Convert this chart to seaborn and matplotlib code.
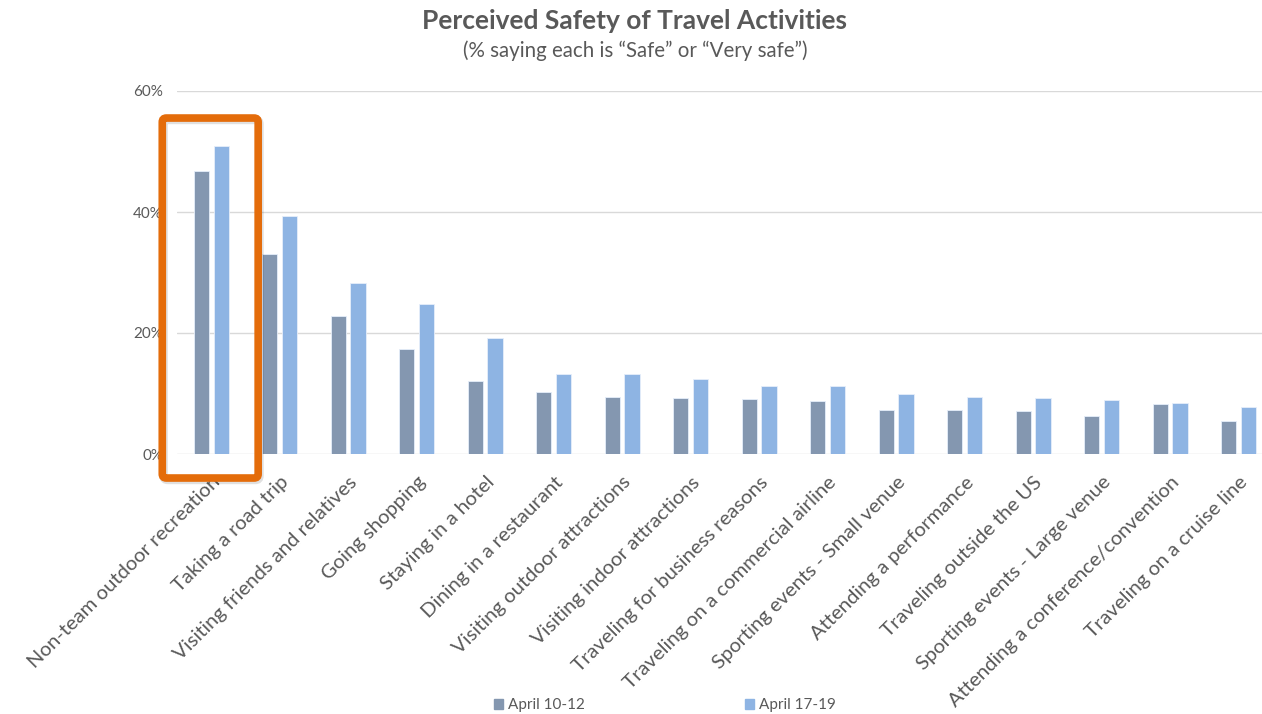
import matplotlib
matplotlib.use("Agg")
import matplotlib.pyplot as plt
from matplotlib.patches import FancyBboxPatch
import pandas as pd
import seaborn as sns

activities = [
    "Non-team outdoor recreation", "Taking a road trip", "Visiting friends and relatives",
    "Going shopping", "Staying in a hotel", "Dining in a restaurant",
    "Visiting outdoor attractions", "Visiting indoor attractions", "Traveling for business reasons",
    "Traveling on a commercial airline", "Sporting events - Small venue", "Attending a performance",
    "Traveling outside the US", "Sporting events - Large venue", "Attending a conference/convention",
    "Traveling on a cruise line",
]
april_10_12 = [46.8, 33.0, 22.8, 17.4, 12.0, 10.3, 9.5, 9.2, 9.1, 8.8, 7.2, 7.3, 7.1, 6.3, 8.3, 5.4]
april_17_19 = [50.9, 39.3, 28.2, 24.8, 19.1, 13.3, 13.2, 12.4, 11.2, 11.2, 10.0, 9.5, 9.3, 9.0, 8.5, 7.8]
periods = ["April 10-12", "April 17-19"]
colors = ["#8497B0", "#8EB4E3"]

df = pd.DataFrame({"activity": activities * 2,
                   "period": [periods[0]] * len(activities) + [periods[1]] * len(activities),
                   "value": april_10_12 + april_17_19})

sns.set_theme(style="white")
plt.rcParams["font.family"] = ["Lato", "DejaVu Sans"]
txt = "#595959"

fig = plt.figure(figsize=(12.62, 7.14), dpi=100)
ax = fig.add_axes([177 / 1262, 260 / 714, 1085 / 1262, 363 / 714])

sns.barplot(data=df, x="activity", y="value", hue="period", palette=colors, saturation=1,
            width=0.572, gap=0.23, edgecolor="#e6eefa", linewidth=0.6, ax=ax, legend=False)

ax.set_ylim(0, 60)
ax.set_xlim(-0.5, 15.34)
ax.set_yticks([0, 20, 40, 60])
ax.set_yticklabels(["0%", "20%", "40%", "60%"], color=txt, fontsize=11)
ax.yaxis.grid(True, color="#D9D9D9", lw=1)
ax.set_axisbelow(True)
for s in ax.spines.values():
    s.set_visible(False)
ax.tick_params(axis="y", pad=10, length=0)
ax.tick_params(axis="x", pad=14, length=0)
ax.set_xlabel("")
ax.set_ylabel("")
ax.set_xticks(range(len(activities)))
ax.set_xticklabels(activities, rotation=45, ha="right", va="top", rotation_mode="anchor",
                   color=txt, fontsize=14.6)

# orange highlight around the first category
shadow = FancyBboxPatch((-0.695, -4.3), 1.4, 59.5,
                        boxstyle="round,pad=0,rounding_size=0.06", mutation_aspect=11.3,
                        fill=False, edgecolor="#000000", alpha=0.12, lw=6, clip_on=False, zorder=4)
ax.add_patch(shadow)
box = FancyBboxPatch((-0.715, -3.97), 1.4, 59.5,
                     boxstyle="round,pad=0,rounding_size=0.06", mutation_aspect=11.3,
                     fill=False, edgecolor="#E46C0A", lw=5.5, clip_on=False, zorder=5)
ax.add_patch(box)

fig.text(0.503, 0.970, "Perceived Safety of Travel Activities", ha="center", va="center",
         fontsize=19, fontweight="bold", color=txt)
fig.text(0.503, 0.929, "(% saying each is \u201cSafe\u201d or \u201cVery safe\u201d)", ha="center",
         va="center", fontsize=14.8, color=txt)

handles = [plt.Rectangle((0, 0), 1, 1, color=c) for c in colors]
fig.legend(handles, periods, loc="center", bbox_to_anchor=(0.527, 0.012), ncol=2, frameon=False,
           fontsize=11, handlelength=0.6, handleheight=0.6, handletextpad=0.3,
           columnspacing=10.5, labelcolor=txt)

fig.savefig("out.png", dpi=100)
